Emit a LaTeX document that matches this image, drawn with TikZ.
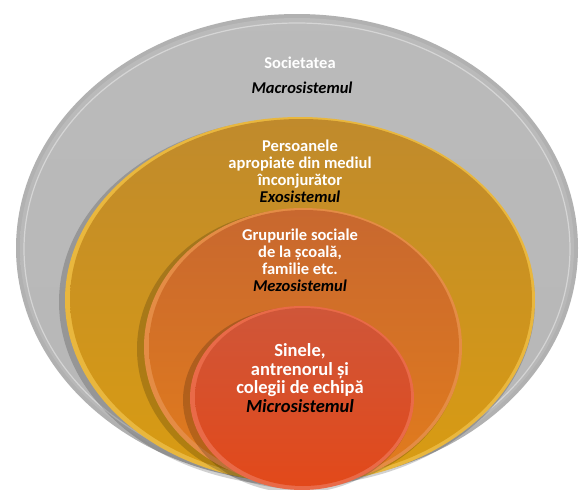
\documentclass[tikz,border=0pt]{standalone}
\usepackage{fontspec}
\setmainfont{Carlito}
\definecolor{grayfill}{HTML}{B7B7B7}
\definecolor{grayrim}{HTML}{8F8F8F}
\definecolor{goldtop}{HTML}{C08A2C}
\definecolor{goldbot}{HTML}{D99C12}
\definecolor{goldrim}{HTML}{E9B73E}
\definecolor{orangetop}{HTML}{C8682F}
\definecolor{orangebot}{HTML}{E27C1C}
\definecolor{orangerim}{HTML}{E48C45}
\definecolor{redtop}{HTML}{CF5639}
\definecolor{redbot}{HTML}{E2491A}
\definecolor{redrim}{HTML}{E96A48}
\tikzset{
  lab/.style={font=\bfseries\fontsize{16.5}{17}\selectfont, text=white, align=center, inner sep=0pt},
  biglab/.style={font=\bfseries\fontsize{18.5}{18.8}\selectfont, text=white, align=center, inner sep=0pt},
  syslab/.style={font=\bfseries\itshape\fontsize{16.5}{17}\selectfont, text=black, inner sep=0pt},
  shadowring/.style={fill=black, opacity=0.18},
}
\begin{document}
\begin{tikzpicture}[x=1pt,y=-1pt]
\useasboundingbox (0,0) rectangle (579,490);
\fill[white] (0,0) rectangle (579,490);

% Macrosystem: outer grey ellipse
\fill[grayrim!70!white] (297,248) ellipse [x radius=281, y radius=234];
\shade[top color=grayfill!95!white, bottom color=grayfill] (297,248) ellipse [x radius=277, y radius=230];
\draw[white, opacity=0.4, line width=1.2pt] (297,249) ellipse [x radius=273, y radius=226];

% Exosystem: gold ellipse
\fill[shadowring] (297,302) ellipse [x radius=238, y radius=184];
\fill[goldrim] (300,300) ellipse [x radius=235, y radius=183];
\shade[top color=goldtop, bottom color=goldbot] (301,299) ellipse [x radius=231, y radius=180];

% Mesosystem: orange ellipse
\fill[shadowring] (299,349) ellipse [x radius=162, y radius=140];
\fill[orangerim] (303,347) ellipse [x radius=159, y radius=139];
\shade[top color=orangetop, bottom color=orangebot] (304,346) ellipse [x radius=155, y radius=136];

% Microsystem: red circle
\fill[shadowring] (298,400) ellipse [x radius=115, y radius=93];
\fill[redrim] (302,398) ellipse [x radius=112, y radius=92];
\shade[top color=redtop, bottom color=redbot] (303,397) ellipse [x radius=108, y radius=89];

% Labels
\node[lab] (soc) at (300,63) {Societatea};
\node[syslab] (macro) at (302,88) {Macrosistemul};
\node[lab] (exo) at (300,171) {Persoanele\\apropiate din mediul\\înconjurător\\{\itshape\color{black}Exosistemul}};
\node[lab] (mezo) at (300,260) {Grupurile sociale\\de la școală,\\familie etc.\\{\itshape\color{black}Mezosistemul}};
\node[biglab] (micro) at (300,378) {Sinele,\\antrenorul și\\colegii de echipă\\{\itshape\color{black}Microsistemul}};
\end{tikzpicture}
\end{document}
